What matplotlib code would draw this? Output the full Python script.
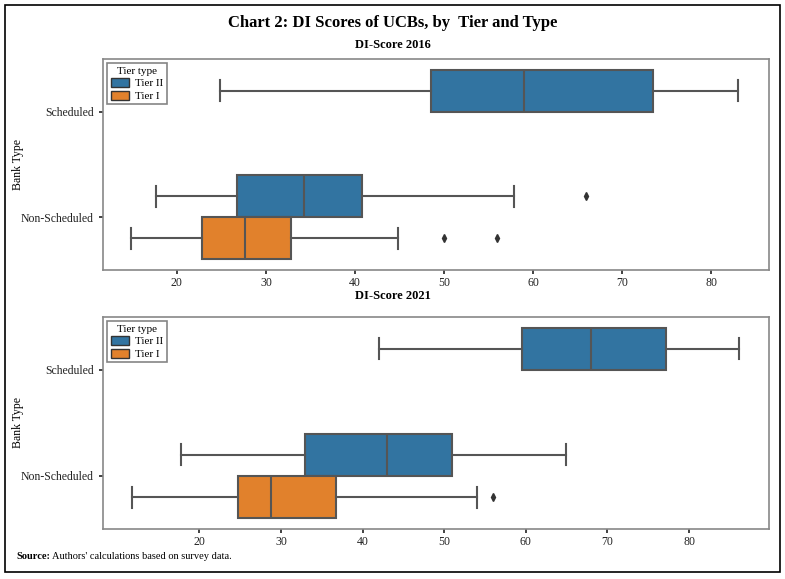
import numpy as np
import matplotlib
matplotlib.use("Agg")
import matplotlib.pyplot as plt
from matplotlib.patches import Patch, Rectangle

plt.rcParams['font.family'] = ['Liberation Serif', 'DejaVu Serif']

bank_types = ["Scheduled", "Non-Scheduled"]
tiers = ["Tier II", "Tier I"]
tier_colors = {"Tier II": "#3274a1", "Tier I": "#e1812c"}
x_ticks = [20, 30, 40, 50, 60, 70, 80]

# DI-Score 2016, one entry per box
type_2016 = ["Scheduled", "Non-Scheduled", "Non-Scheduled"]
tier_2016 = ["Tier II", "Tier II", "Tier I"]
whislo_2016 = [24.8, 17.7, 14.8]
q1_2016 = [48.5, 26.7, 22.8]
med_2016 = [59.0, 34.3, 27.7]
q3_2016 = [73.5, 40.8, 32.8]
whishi_2016 = [83.0, 57.9, 44.8]
fliers_2016 = [[], [66], [50, 56]]

# DI-Score 2021
type_2021 = ["Scheduled", "Non-Scheduled", "Non-Scheduled"]
tier_2021 = ["Tier II", "Tier II", "Tier I"]
whislo_2021 = [42.0, 17.8, 11.8]
q1_2021 = [59.5, 32.9, 24.8]
med_2021 = [68.0, 43.0, 28.8]
q3_2021 = [77.2, 51.0, 36.8]
whishi_2021 = [86.1, 64.9, 54.0]
fliers_2021 = [[], [], [56]]

line_col = "#555555"


def draw_panel(ax, types, tier, whislo, q1, med, q3, whishi, fliers, xlim):
    stats = []
    pos = []
    for i in range(len(types)):
        stats.append(dict(whislo=whislo[i], q1=q1[i], med=med[i], q3=q3[i],
                          whishi=whishi[i], fliers=fliers[i]))
        offset = -0.2 if tier[i] == "Tier II" else 0.2
        pos.append(bank_types.index(types[i]) + offset)
    res = ax.bxp(stats, positions=pos, widths=0.4, orientation='horizontal',
                 patch_artist=True,
                 boxprops=dict(edgecolor=line_col, linewidth=1.5),
                 whiskerprops=dict(color=line_col, linewidth=1.5),
                 capprops=dict(color=line_col, linewidth=1.5),
                 medianprops=dict(color=line_col, linewidth=1.5),
                 flierprops=dict(marker='d', markersize=4, markerfacecolor="#333333",
                                 markeredgecolor="#333333", linestyle='none'))
    for box, t in zip(res['boxes'], tier):
        box.set_facecolor(tier_colors[t])
    ax.set_xlim(*xlim)
    ax.set_ylim(1.5, -0.5)
    ax.set_yticks(range(len(bank_types)))
    ax.set_yticklabels(bank_types)
    ax.set_xticks(x_ticks)
    ax.set_xticklabels([str(v) for v in x_ticks])
    ax.set_ylabel("Bank Type", fontsize=8.5)
    ax.yaxis.set_label_coords(-0.118, 0.5)
    ax.tick_params(labelsize=8.5, length=3, width=1.2, colors="#222222")
    ax.tick_params(axis='x', pad=2)
    for s in ax.spines.values():
        s.set_color("#888888")
        s.set_linewidth(1.2)
    handles = [Patch(facecolor=tier_colors[t], edgecolor="#333333", label=t) for t in tiers]
    leg = ax.legend(handles=handles, title="Tier type", loc="upper left", fontsize=8,
                    title_fontsize=8, fancybox=False, borderpad=0.3,
                    handlelength=1.6, handleheight=0.9, labelspacing=0.2,
                    handletextpad=0.6, borderaxespad=0.4)
    leg.get_frame().set_edgecolor("#666666")
    leg.get_frame().set_linewidth(1.2)


fig = plt.figure(figsize=(7.85, 5.79), dpi=100)
ax1 = fig.add_axes([0.1312, 0.5337, 0.8484, 0.3644])
ax2 = fig.add_axes([0.1312, 0.0864, 0.8484, 0.3661])

draw_panel(ax1, type_2016, tier_2016, whislo_2016, q1_2016,
           med_2016, q3_2016, whishi_2016, fliers_2016, (11.7, 86.5))
draw_panel(ax2, type_2021, tier_2021, whislo_2021, q1_2021,
           med_2021, q3_2021, whishi_2021, fliers_2021, (8.2, 89.8))

fig.text(0.5, 0.960, "Chart 2: DI Scores of UCBs, by  Tier and Type", ha='center',
         va='center', fontsize=12, fontweight='bold')
fig.text(0.5, 0.922, "DI-Score 2016", ha='center', va='center', fontsize=9,
         fontweight='bold')
fig.text(0.5, 0.488, "DI-Score 2021", ha='center', va='center', fontsize=9,
         fontweight='bold')
fig.text(0.021, 0.039, "Source:", fontsize=7.5, fontweight='bold', va='center')
fig.text(0.066, 0.039, "Authors' calculations based on survey data.", fontsize=7.5,
         va='center')

fig.patches.append(Rectangle((0.007, 0.012), 0.986, 0.979, transform=fig.transFigure,
                             fill=False, edgecolor="black", linewidth=1.2))

fig.savefig("out.png", dpi=100)
